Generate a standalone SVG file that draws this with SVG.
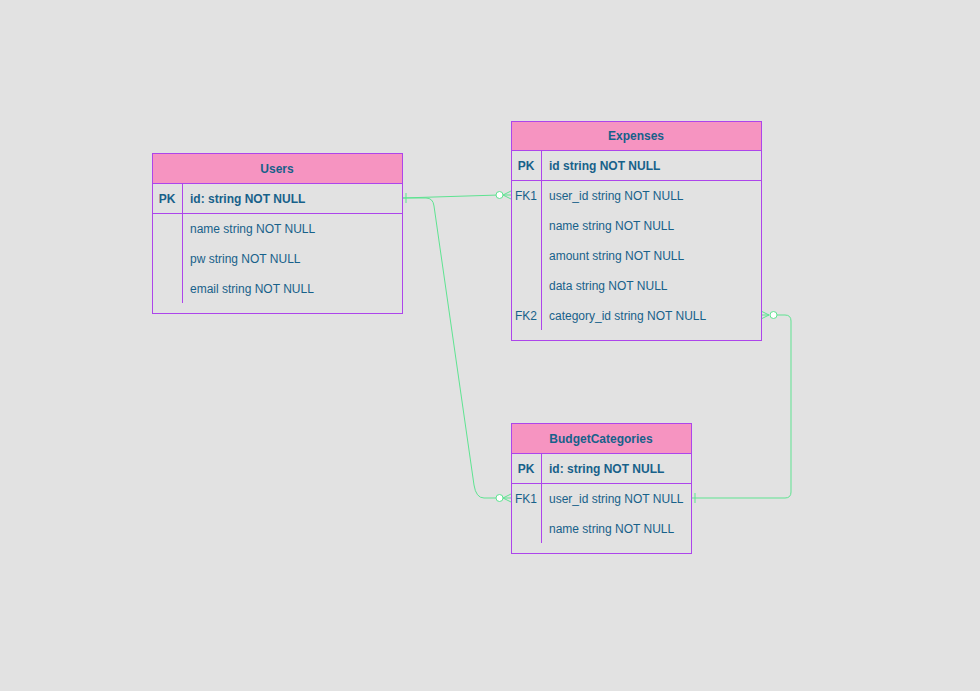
<svg xmlns="http://www.w3.org/2000/svg" width="980" height="691" viewBox="0 0 980 691">
<style>
.box{fill:none;stroke:#AD45EB;stroke-width:1}
.hdr{fill:#F694C1;stroke:#AD45EB;stroke-width:1}
.ln{stroke:#AD45EB;stroke-width:1;fill:none}
.t{font-family:"Liberation Sans",Arial,sans-serif;font-size:12px;fill:#17618A}
.b{font-weight:bold}
.c{stroke:#5EE391;stroke-width:1;fill:none}
.o{stroke:#5EE391;stroke-width:1;fill:#FFFFFF}
</style>
<rect width="980" height="691" fill="#E2E2E2"/>
<g id="connectors">
  <path class="c" d="M402 198 L499 195"/>
  <path class="c" d="M406 193 V203"/>
  <circle class="o" cx="499.5" cy="195" r="3.5"/>
  <path class="c" d="M503 195 L511 191 M503 195 L511 195 M503 195 L511 199"/>
  <path class="c" d="M402 198 H426 Q433 198 434 206 L474 485 Q476 498 484 498 H496"/>
  <circle class="o" cx="499.5" cy="498" r="3.5"/>
  <path class="c" d="M503 498 L511 494 M503 498 L511 498 M503 498 L511 502"/>
  <path class="c" d="M691 498 H785 Q791 498 791 492 V321 Q791 315 785 315 H777"/>
  <path class="c" d="M695 493 V503"/>
  <circle class="o" cx="773.5" cy="315" r="3.5"/>
  <path class="c" d="M769 315 L761 311 M769 315 L761 315 M769 315 L761 319"/>
</g>
<g id="users">
  <rect class="hdr" x="152.5" y="153.5" width="250" height="30"/>
  <rect class="box" x="152.5" y="153.5" width="250" height="160"/>
  <line class="ln" x1="152.5" y1="213.5" x2="402.5" y2="213.5"/>
  <line class="ln" x1="182.5" y1="183.5" x2="182.5" y2="303"/>
  <text class="t b" x="277" y="173" text-anchor="middle">Users</text>
  <text class="t b" x="167" y="203" text-anchor="middle">PK</text>
  <text class="t b" x="190" y="203">id: string NOT NULL</text>
  <text class="t" x="190" y="233">name string NOT NULL</text>
  <text class="t" x="190" y="263">pw string NOT NULL</text>
  <text class="t" x="190" y="293">email string NOT NULL</text>
</g>
<g id="expenses">
  <rect class="hdr" x="511.5" y="121.5" width="250" height="29"/>
  <rect class="box" x="511.5" y="121.5" width="250" height="219"/>
  <line class="ln" x1="511.5" y1="180.5" x2="761.5" y2="180.5"/>
  <line class="ln" x1="541.5" y1="150.5" x2="541.5" y2="330"/>
  <text class="t b" x="636" y="140" text-anchor="middle">Expenses</text>
  <text class="t b" x="526" y="170" text-anchor="middle">PK</text>
  <text class="t b" x="549" y="170">id string NOT NULL</text>
  <text class="t" x="526" y="200" text-anchor="middle">FK1</text>
  <text class="t" x="549" y="200">user_id string NOT NULL</text>
  <text class="t" x="549" y="230">name string NOT NULL</text>
  <text class="t" x="549" y="260">amount string NOT NULL</text>
  <text class="t" x="549" y="290">data string NOT NULL</text>
  <text class="t" x="526" y="320" text-anchor="middle">FK2</text>
  <text class="t" x="549" y="320">category_id string NOT NULL</text>
</g>
<g id="budgetcategories">
  <rect class="hdr" x="511.5" y="423.5" width="180" height="30"/>
  <rect class="box" x="511.5" y="423.5" width="180" height="130"/>
  <line class="ln" x1="511.5" y1="483.5" x2="691.5" y2="483.5"/>
  <line class="ln" x1="541.5" y1="453.5" x2="541.5" y2="543"/>
  <text class="t b" x="601" y="443" text-anchor="middle">BudgetCategories</text>
  <text class="t b" x="526" y="473" text-anchor="middle">PK</text>
  <text class="t b" x="549" y="473">id: string NOT NULL</text>
  <text class="t" x="526" y="503" text-anchor="middle">FK1</text>
  <text class="t" x="549" y="503">user_id string NOT NULL</text>
  <text class="t" x="549" y="533">name string NOT NULL</text>
</g>
</svg>
